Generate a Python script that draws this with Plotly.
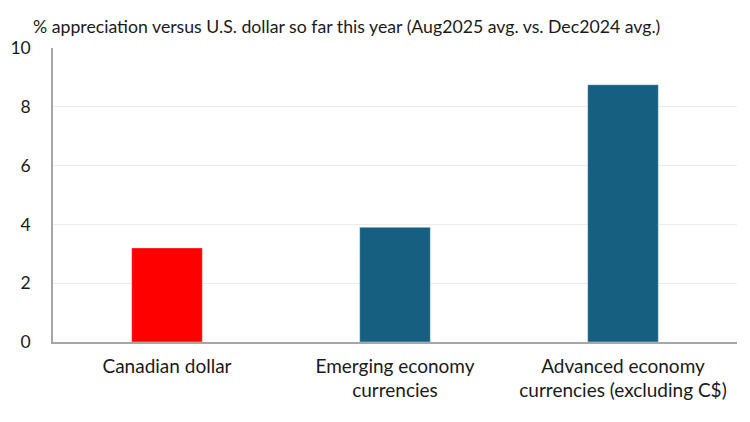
import plotly.graph_objects as go

categories = ['Canadian dollar', 'Emerging economy<br>currencies',
              'Advanced economy<br>currencies (excluding C$)']
appreciation = [3.2, 3.9, 8.75]
bar_colors = ['#ff0000', '#175f81', '#175f81']

FONT = 'Lato, Calibri, Carlito, sans-serif'

fig = go.Figure(data=go.Bar(x=categories, y=appreciation,
                            marker=dict(color=bar_colors,
                                        line=dict(color='rgba(255,255,255,0.4)', width=1)),
                            width=0.31))

# the page body adds 8px, so margins are trimmed to keep the plot where the reference has it
fig.update_layout(
    width=750, height=422,
    margin=dict(l=45, r=21, t=40, b=88),
    paper_bgcolor='white', plot_bgcolor='white',
    font=dict(family=FONT, size=19, color='#1a1a1a'),
    showlegend=False,
    annotations=[dict(text='% appreciation versus U.S. dollar so far this year '
                           '(Aug2025 avg. vs. Dec2024 avg.)',
                      xref='paper', yref='paper', x=-0.032, y=1.03,
                      xanchor='left', yanchor='bottom', showarrow=False,
                      font=dict(family=FONT, size=17.7, color='#1a1a1a'))],
)

fig.update_xaxes(showline=True, linecolor='#a6a6a6', linewidth=1.5, automargin=False,
                 ticks='', showgrid=False, ticklabelstandoff=6)
fig.update_yaxes(range=[0, 10], dtick=2, showline=True, linecolor='#a6a6a6',
                 linewidth=1.5, gridcolor='#ececec', gridwidth=1, automargin=False,
                 zeroline=False, ticks='', ticklabelstandoff=17,
                 tickfont=dict(size=17.5))

fig.write_html('out.html')
